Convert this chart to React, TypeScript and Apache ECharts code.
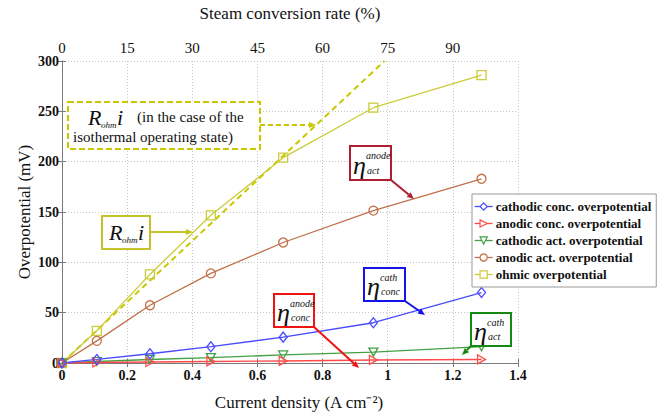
import React, { useEffect, useRef } from "react";
import * as echarts from "echarts";

// Current density at each measured point (A cm^-2)
const currentDensity = [0, 0.107, 0.27, 0.457, 0.679, 0.956, 1.288];

// Overpotential contributions (mV)
const cathodicConc = [0, 3.5, 9.2, 16.2, 25.7, 40, 70];
const anodicConc = [0, 0.5, 1, 1.5, 2, 3, 3.5];
const cathodicAct = [0, 1.5, 3.5, 5.4, 8, 10.8, 16.2];
const anodicAct = [0, 22, 57.4, 89, 119.7, 151.4, 183];
const ohmic = [0, 32, 88, 146.7, 204, 253.6, 286];

// Ohmic loss for the isothermal operating state (straight line)
const isothermalX = [0, 0.99];
const isothermalY = [0, 300];

const seriesNames = [
  "cathodic conc. overpotential",
  "anodic conc. overpotential",
  "cathodic act. overpotential",
  "anodic act. overpotential",
  "ohmic overpotential",
];

const SERIF = "Liberation Serif";

const COLORS = {
  cathConc: "#4a4aff",
  anodConc: "#ff4a4a",
  cathAct: "#44a044",
  anodAct: "#c07048",
  ohmic: "#cccc3a",
  iso: "#c8c800",
};

const SYMBOLS = {
  diamond: "path://M5,0 L10,6 L5,12 L0,6 Z",
  right: "path://M0,0 L9,5 L0,10 Z",
  down: "path://M0,0 L10,0 L5,9 Z",
};

const seriesColors = [COLORS.cathConc, COLORS.anodConc, COLORS.cathAct, COLORS.anodAct, COLORS.ohmic];

const pairs = (xs: number[], ys: number[]) => xs.map((x, i) => [x, ys[i]]);

function lineSeries(name: string, ys: number[], color: string, symbol: string, size: number | number[]) {
  return {
    name,
    type: "line",
    data: pairs(currentDensity, ys),
    symbol,
    symbolSize: size,
    showAllSymbol: true,
    lineStyle: { color, width: 1.3 },
    itemStyle: { color: "rgba(255,255,255,0)", borderColor: color, borderWidth: 1.3 },
    emphasis: { disabled: true },
  };
}

function arrow(x1: number, y1: number, x2: number, y2: number, color: string, dashed = false) {
  const ang = Math.atan2(y2 - y1, x2 - x1);
  const L = 7;
  const W = 3;
  const bx = x2 - L * Math.cos(ang);
  const by = y2 - L * Math.sin(ang);
  const px = -Math.sin(ang) * W;
  const py = Math.cos(ang) * W;
  return [
    {
      type: "line",
      shape: { x1, y1, x2: bx, y2: by },
      style: { stroke: color, lineWidth: 2, lineDash: dashed ? [5, 3] : null },
      z: 100,
    },
    {
      type: "polygon",
      shape: { points: [[x2, y2], [bx + px, by + py], [bx - px, by - py]] },
      style: { fill: color },
      z: 100,
    },
  ];
}

function etaLabel(x: number, y: number, w: number, h: number, color: string, sup: string, sub: string) {
  return [
    {
      type: "rect",
      shape: { x, y, width: w, height: h },
      style: { fill: "#fff", stroke: color, lineWidth: 2 },
      z: 100,
    },
    {
      type: "text",
      x: x + 3,
      y: y + h / 2 + 2,
      style: { text: "η", fontFamily: SERIF, fontStyle: "italic", fontSize: 26, fill: "#111", verticalAlign: "middle" },
      z: 101,
    },
    {
      type: "text",
      x: x + 16,
      y: y + 4,
      style: { text: sup, fontFamily: SERIF, fontStyle: "italic", fontSize: 10, fill: "#111" },
      z: 101,
    },
    {
      type: "text",
      x: x + 17,
      y: y + h - 15,
      style: { text: sub, fontFamily: SERIF, fontStyle: "italic", fontSize: 10, fill: "#111" },
      z: 101,
    },
  ];
}

function rohmText(x: number, y: number) {
  return [
    {
      type: "text",
      x,
      y,
      style: { text: "R", fontFamily: SERIF, fontStyle: "italic", fontSize: 22, fill: "#111", verticalAlign: "middle" },
      z: 101,
    },
    {
      type: "text",
      x: x + 13,
      y: y + 8,
      style: { text: "ohm", fontFamily: SERIF, fontStyle: "italic", fontSize: 9, fill: "#111", verticalAlign: "middle" },
      z: 101,
    },
    {
      type: "text",
      x: x + 29,
      y,
      style: { text: "i", fontFamily: SERIF, fontStyle: "italic", fontSize: 22, fill: "#111", verticalAlign: "middle" },
      z: 101,
    },
  ];
}

export default function App() {
  const ref = useRef<HTMLDivElement>(null);

  useEffect(() => {
    if (!ref.current) return;
    const chart = echarts.init(ref.current, undefined, { renderer: "svg" });

    const axisLine = { show: true, lineStyle: { color: "#7a7a7a", width: 1 } };
    const tickLabel = { fontFamily: SERIF, fontSize: 14, fontWeight: "bold", color: "#111" };

    const graphics: any[] = [
      // Isothermal ohmic loss annotation (dashed)
      {
        type: "rect",
        shape: { x: 68, y: 102, width: 192, height: 47 },
        style: { fill: "rgba(255,255,255,0.85)", stroke: COLORS.iso, lineWidth: 2, lineDash: [6, 3] },
        z: 100,
      },
      ...rohmText(88, 117),
      {
        type: "text",
        x: 137,
        y: 117,
        style: { text: "(in the case of the", fontFamily: SERIF, fontSize: 15, fill: "#111", verticalAlign: "middle" },
        z: 101,
      },
      {
        type: "text",
        x: 73,
        y: 137,
        style: { text: "isothermal operating state)", fontFamily: SERIF, fontSize: 15, fill: "#111", verticalAlign: "middle" },
        z: 101,
      },
      ...arrow(260, 125, 316, 125, COLORS.iso, true),

      // Ohmic loss annotation (solid)
      {
        type: "rect",
        shape: { x: 102, y: 216, width: 48, height: 33 },
        style: { fill: "#fff", stroke: "#c4c42a", lineWidth: 2 },
        z: 100,
      },
      ...rohmText(109, 232),
      ...arrow(150, 232, 193, 232, "#c4c42a"),

      // Overpotential labels
      ...etaLabel(350, 146, 41, 34, "#b01c30", "anode", "act"),
      ...arrow(391, 180, 414, 199, "#b01c30"),
      ...etaLabel(364, 268, 41, 33, "#1414e8", "cath", "conc"),
      ...arrow(405, 301, 425, 315, "#1414e8"),
      ...etaLabel(274, 294, 40, 33, "#ee1414", "anode", "conc"),
      ...arrow(314, 327, 359, 368, "#ee1414"),
      ...etaLabel(471, 313, 40, 33, "#148a14", "cath", "act"),
      ...arrow(471, 346, 462, 355, "#148a14"),
    ];

    chart.setOption({
      animation: false,
      backgroundColor: "#fff",
      grid: { left: 62, top: 58, right: 149, bottom: 43, containLabel: false },
      legend: {
        data: seriesNames.map((name, i) => ({
          name,
          itemStyle: { color: "#fff", borderColor: seriesColors[i], borderWidth: 1.2 },
          lineStyle: { color: seriesColors[i], width: 1.3 },
        })),
        orient: "vertical",
        left: 472,
        top: 194,
        itemWidth: 18,
        itemHeight: 9,
        itemGap: 4,
        padding: [6, 5, 6, 2],
        backgroundColor: "#fff",
        borderColor: "#999",
        borderWidth: 1,
        textStyle: { fontFamily: SERIF, fontSize: 13, fontWeight: "bold", color: "#111", padding: [0, 0, 0, -2] },
        z: 50,
      },
      xAxis: [
        {
          type: "value",
          position: "bottom",
          min: 0,
          max: 1.4,
          interval: 0.2,
          name: "Current density (A cm⁻²)",
          nameLocation: "middle",
          nameGap: 31,
          nameMoveOverlap: false,
          nameTextStyle: { fontFamily: SERIF, fontSize: 17, color: "#111", padding: [0, 0, 0, 18] },
          axisLine,
          axisTick: { show: true, inside: true, length: 4, lineStyle: { color: "#7a7a7a" } },
          axisLabel: {
            ...tickLabel,
            margin: 5,
            formatter: (v: number) => String(Math.round(v * 10) / 10),
          },
          splitLine: { show: true, lineStyle: { color: "#c4c4c4", type: [1, 2] } },
        },
        {
          type: "value",
          position: "top",
          min: 0,
          max: 105,
          interval: 15,
          name: "Steam conversion rate (%)",
          nameLocation: "middle",
          nameGap: 39,
          nameMoveOverlap: false,
          nameTextStyle: { fontFamily: SERIF, fontSize: 17, color: "#111" },
          axisLine,
          axisTick: { show: true, inside: true, length: 4, lineStyle: { color: "#7a7a7a" } },
          axisLabel: {
            ...tickLabel,
            fontWeight: "normal",
            fontSize: 15,
            margin: 6,
            formatter: (v: number) => (v >= 105 ? "" : String(v)),
          },
          splitLine: { show: false },
        },
      ],
      yAxis: [
        {
          type: "value",
          position: "left",
          min: 0,
          max: 300,
          interval: 50,
          name: "Overpotential (mV)",
          nameLocation: "middle",
          nameGap: 29,
          nameMoveOverlap: false,
          nameTextStyle: { fontFamily: SERIF, fontSize: 17, color: "#111" },
          axisLine,
          axisTick: { show: true, inside: true, length: 4, lineStyle: { color: "#7a7a7a" } },
          axisLabel: { ...tickLabel, margin: 3 },
          splitLine: { show: true, lineStyle: { color: "#c4c4c4", type: [1, 2] } },
        },
        {
          type: "value",
          position: "right",
          min: 0,
          max: 300,
          interval: 50,
          axisLine,
          axisTick: { show: true, inside: true, length: 4, lineStyle: { color: "#7a7a7a" } },
          axisLabel: { show: false },
          splitLine: { show: false },
        },
      ],
      series: [
        {
          name: "isothermal",
          type: "line",
          data: pairs(isothermalX, isothermalY),
          symbol: "none",
          lineStyle: { color: COLORS.iso, width: 2, type: [6, 4] },
          emphasis: { disabled: true },
          z: 1,
        },
        lineSeries(seriesNames[4], ohmic, COLORS.ohmic, "rect", 9),
        lineSeries(seriesNames[3], anodicAct, COLORS.anodAct, "circle", 9),
        lineSeries(seriesNames[2], cathodicAct, COLORS.cathAct, SYMBOLS.down, [9, 8]),
        lineSeries(seriesNames[1], anodicConc, COLORS.anodConc, SYMBOLS.right, [8, 9]),
        lineSeries(seriesNames[0], cathodicConc, COLORS.cathConc, SYMBOLS.diamond, [8, 10]),
      ],
      graphic: graphics,
    });

    return () => chart.dispose();
  }, []);

  return (
    <div
      ref={ref}
      style={{ position: "fixed", left: 0, top: 0, width: 667, height: 416, background: "#fff" }}
    />
  );
}
